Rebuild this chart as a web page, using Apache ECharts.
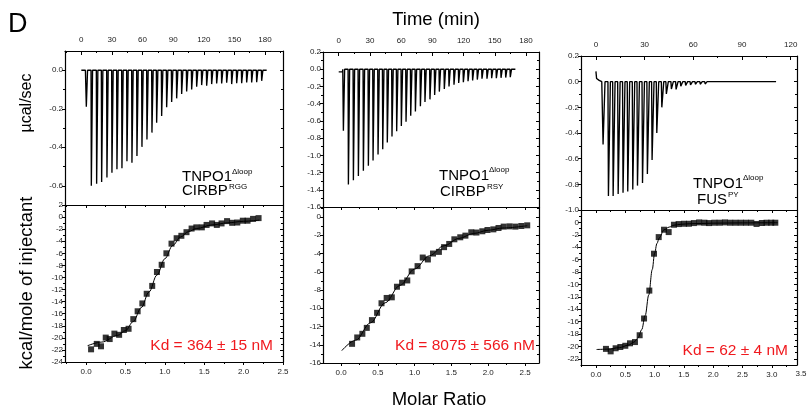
<!DOCTYPE html>
<html><head><meta charset="utf-8">
<script src="https://cdn.jsdelivr.net/npm/echarts@6/dist/echarts.min.js"></script>
<style>html,body{margin:0;padding:0;background:#fff}#c{width:808px;height:411px}</style>
</head><body><div id="c"></div>
<script>
// ---------------- DATA ----------------
// Panel 1: TNPO1(Δloop) + CIRBP(RGG)
const p1Lead = [[0, 0], [4.0, 0]];
const p1InjTimes = [4.6, 9.5, 14.7, 19.6, 24.8, 29.7, 34.6, 39.5, 44.4, 49.3, 54.2, 59.1, 64.0, 68.9, 73.5, 78.4, 83.3, 88.2, 93.1, 98.0, 102.9, 107.8, 112.7, 117.6, 122.5, 127.4, 132.3, 137.2, 142.1, 147.0, 151.9, 156.8, 161.7, 166.6, 171.5, 176.4];
const p1InjPeaks = [-0.19, -0.60, -0.59, -0.58, -0.557, -0.533, -0.514, -0.509, -0.473, -0.48, -0.446, -0.398, -0.36, -0.324, -0.273, -0.238, -0.192, -0.165, -0.146, -0.123, -0.11, -0.10, -0.086, -0.077, -0.08, -0.072, -0.069, -0.069, -0.065, -0.072, -0.067, -0.067, -0.063, -0.063, -0.062, -0.055];
const p1End = 181.6;
const p1Ratio = [0.064, 0.136, 0.19, 0.25, 0.30, 0.36, 0.42, 0.48, 0.54, 0.60, 0.655, 0.715, 0.77, 0.84, 0.90, 0.96, 1.02, 1.085, 1.15, 1.21, 1.275, 1.34, 1.40, 1.47, 1.53, 1.60, 1.66, 1.72, 1.79, 1.855, 1.92, 1.99, 2.05, 2.12, 2.19];
const p1Heat = [-21.9, -21.0, -21.4, -19.96, -20.2, -19.3, -19.5, -18.7, -18.5, -16.9, -15.6, -14.3, -12.7, -11.4, -9.1, -7.9, -6.0, -4.4, -3.5, -3.1, -2.5, -1.9, -1.7, -1.7, -1.3, -1.05, -1.3, -1.05, -0.67, -0.95, -0.9, -0.6, -0.6, -0.3, -0.17];
const p1FitRatio = [0.02, 0.2, 0.4, 0.5, 0.6, 0.7, 0.8, 0.9, 1.0, 1.1, 1.2, 1.3, 1.4, 1.6, 1.8, 2.0, 2.2];
const p1FitHeat = [-21.3, -20.7, -19.6, -18.8, -17.3, -15.0, -12.4, -9.6, -6.9, -4.7, -3.3, -2.4, -1.9, -1.3, -0.95, -0.7, -0.5];

// Panel 2: TNPO1(Δloop) + CIRBP(RSY)
const p2Lead = [[0, -0.03], [3.6, -0.03], [3.9, 0]];
const p2InjTimes = [4.2, 9.0, 13.8, 18.6, 23.4, 28.2, 32.7, 37.5, 42.0, 46.4, 50.9, 55.4, 59.9, 64.4, 68.9, 73.4, 78.2, 82.6, 87.4, 91.9, 96.4, 101.2, 105.7, 110.5, 115.0, 119.5, 124.0, 128.4, 132.9, 137.4, 142.2, 146.7, 151.2, 155.7, 160.2, 164.6];
const p2InjPeaks = [-0.715, -1.34, -1.29, -1.24, -1.18, -1.12, -1.06, -0.99, -0.93, -0.85, -0.78, -0.72, -0.66, -0.61, -0.54, -0.49, -0.43, -0.38, -0.35, -0.30, -0.26, -0.23, -0.20, -0.18, -0.16, -0.15, -0.14, -0.13, -0.12, -0.11, -0.11, -0.105, -0.105, -0.10, -0.097, -0.093];
const p2End = 169.8;
const p2Ratio = [0.15, 0.22, 0.29, 0.35, 0.42, 0.49, 0.55, 0.62, 0.69, 0.76, 0.83, 0.90, 0.96, 1.04, 1.11, 1.18, 1.25, 1.33, 1.40, 1.47, 1.54, 1.62, 1.69, 1.77, 1.84, 1.92, 1.99, 2.07, 2.14, 2.21, 2.29, 2.37, 2.45, 2.53];
const p2Heat = [-13.9, -13.2, -12.8, -12.15, -11.3, -10.5, -9.45, -8.87, -8.8, -7.64, -7.2, -6.95, -5.96, -5.38, -4.44, -4.65, -4.0, -3.82, -3.3, -2.95, -2.44, -2.22, -2.04, -1.67, -1.7, -1.56, -1.42, -1.35, -1.2, -1.05, -1.02, -1.05, -0.98, -0.91];
const p2FitRatio = [0.01, 0.2, 0.4, 0.6, 0.8, 1.0, 1.2, 1.4, 1.6, 1.8, 2.0, 2.2, 2.53];
const p2FitHeat = [-14.65, -13.5, -11.6, -9.4, -7.5, -5.7, -4.25, -3.15, -2.35, -1.8, -1.45, -1.2, -0.95];

// Panel 3: TNPO1(Δloop) + FUS(PY)
const p3Lead = [[0, 0.08], [0.4, 0.025], [1.2, 0.03], [2.0, 0.01], [3.6, 0]];
const p3InjTimes = [4.1, 7.4, 10.3, 13.4, 16.4, 19.3, 22.4, 25.3, 28.4, 31.4, 34.3, 37.2, 40.3, 43.1, 46.2, 49.1, 52.0, 55.0, 58.0, 61.0, 64.0, 67.0, 70.0, 73.0, 76.0, 79.0, 82.0, 85.0, 88.0, 91.0, 94.0, 97.0, 100.0, 103.0, 106.0, 109.0];
const p3InjPeaks = [-0.49, -0.89, -0.89, -0.875, -0.865, -0.856, -0.84, -0.81, -0.79, -0.72, -0.61, -0.40, -0.20, -0.095, -0.057, -0.06, -0.035, -0.03, -0.025, -0.02, -0.02, -0.018, -0.015, -0.015, -0.012, -0.012, -0.01, -0.01, -0.012, -0.01, -0.01, -0.01, -0.015, -0.01, -0.01, -0.01];
const p3End = 111.0;
const p3Ratio = [0.17, 0.25, 0.335, 0.415, 0.50, 0.58, 0.665, 0.745, 0.82, 0.91, 0.99, 1.07, 1.16, 1.24, 1.33, 1.41, 1.50, 1.585, 1.67, 1.76, 1.85, 1.93, 2.02, 2.11, 2.20, 2.29, 2.38, 2.47, 2.56, 2.65, 2.74, 2.83, 2.91, 2.99, 3.06];
const p3Heat = [-20.4, -20.8, -20.3, -20.1, -19.9, -19.5, -19.3, -18.2, -15.5, -11.0, -5.05, -2.37, -1.18, -1.56, -0.38, -0.27, -0.22, -0.22, -0.11, 0.0, -0.05, -0.11, -0.05, -0.05, 0.0, -0.05, -0.05, -0.05, -0.05, -0.05, -0.25, -0.1, -0.05, -0.05, -0.05];
const p3FitRatio = [0.01, 0.2, 0.4, 0.55, 0.65, 0.72, 0.78, 0.84, 0.9, 0.96, 1.0, 1.04, 1.08, 1.16, 1.25, 1.33, 1.45, 1.6, 2.0, 2.5, 3.1];
const p3FitHeat = [-20.5, -20.45, -20.2, -19.8, -19.3, -18.6, -17.3, -15.0, -11.7, -7.6, -5.0, -3.4, -2.5, -1.2, -0.75, -0.45, -0.3, -0.22, -0.12, -0.08, -0.05];

// Tick labels
const time180Ticks = [0, 30, 60, 90, 120, 150, 180];
const time120Ticks = [0, 30, 60, 90, 120];
const ratio25Ticks = [0, 0.5, 1.0, 1.5, 2.0, 2.5];
const ratio30Ticks = [0, 0.5, 1.0, 1.5, 2.0, 2.5, 3.0];
const p1RawTicks = [0.0, -0.2, -0.4, -0.6];
const p1HeatTicks = [2, 0, -2, -4, -6, -8, -10, -12, -14, -16, -18, -20, -22, -24];
const p2RawTicks = [0.2, 0.0, -0.2, -0.4, -0.6, -0.8, -1.0, -1.2, -1.4, -1.6];
const p2HeatTicks = [0, -2, -4, -6, -8, -10, -12, -14, -16];
const p3RawTicks = [0.2, 0.0, -0.2, -0.4, -0.6, -0.8, -1.0];
const p3HeatTicks = [0, -2, -4, -6, -8, -10, -12, -14, -16, -18, -20, -22];

const titleTime = 'Time (min)';
const titleRatio = 'Molar Ratio';
const yTitleRaw = 'µcal/sec';
const yTitleHeat = 'kcal/mole of injectant';
const kdTexts = ['Kd = 364 ± 15 nM', 'Kd = 8075 ± 566 nM', 'Kd = 62 ± 4 nM'];
const labelsA = [['TNPO1', 'Δloop'], ['TNPO1', 'Δloop'], ['TNPO1', 'Δloop']];
const labelsB = [['CIRBP', 'RGG'], ['CIRBP', 'RSY'], ['FUS', 'PY']];

// ---------------- LAYOUT ----------------
const FONT = '"Liberation Sans", Arial, Helvetica, sans-serif';
const SPIKE_DROP = 0.3, SPIKE_BACK = 1.5;
const panels = [
  { top: {left: 65, top: 51, width: 218, height: 154}, bot: {left: 65, top: 205, width: 218, height: 157},
    time: [-16, 197.6], raw: [-0.7, 0.1], ratio: [-0.267, 2.5], heat: [-24, 2],
    timeTicks: time180Ticks, rawTicks: p1RawTicks, ratioTicks: ratio25Ticks, heatTicks: p1HeatTicks,
    lead: p1Lead, times: p1InjTimes, peaks: p1InjPeaks, end: p1End,
    ratioD: p1Ratio, heatD: p1Heat, fitR: p1FitRatio, fitH: p1FitHeat },
  { top: {left: 323, top: 52, width: 216, height: 155}, bot: {left: 323, top: 207, width: 216, height: 156},
    time: [-15.1, 192.5], raw: [-1.6, 0.2], ratio: [-0.245, 2.69], heat: [-16, 1.1],
    timeTicks: time180Ticks, rawTicks: p2RawTicks, ratioTicks: ratio25Ticks, heatTicks: p2HeatTicks,
    lead: p2Lead, times: p2InjTimes, peaks: p2InjPeaks, end: p2End,
    ratioD: p2Ratio, heatD: p2Heat, fitR: p2FitRatio, fitH: p2FitHeat },
  { top: {left: 581, top: 56, width: 216, height: 154}, bot: {left: 581, top: 210, width: 216, height: 155},
    time: [-9.2, 123.9], raw: [-1.0, 0.2], ratio: [-0.256, 3.43], heat: [-23, 2],
    timeTicks: time120Ticks, rawTicks: p3RawTicks, ratioTicks: ratio30Ticks, heatTicks: p3HeatTicks,
    lead: p3Lead, times: p3InjTimes, peaks: p3InjPeaks, end: p3End,
    ratioD: p3Ratio, heatD: p3Heat, fitR: p3FitRatio, fitH: p3FitHeat }
];

function minors(arr, lo, hi) {
  const s = arr.slice().sort((a, b) => a - b);
  const d = s[1] - s[0];
  const out = [s[0] - d / 2];
  for (let i = 0; i < s.length - 1; i++) out.push((s[i] + s[i + 1]) / 2);
  out.push(s[s.length - 1] + d / 2);
  return out.filter(v => v > lo + 1e-9 && v < hi - 1e-9);
}

const grids = [], xAxes = [], yAxes = [], series = [];
function axis(list, gridIndex, pos, range, ticks, o) {
  list.push({
    type: 'value', gridIndex, position: pos, min: range[0], max: range[1], offset: 0,
    axisLine: {show: !!o.line, onZero: false, lineStyle: {color: '#000', width: 1.2}},
    axisTick: {show: ticks.length > 0, inside: !!o.inside, length: o.len || 4, customValues: ticks, lineStyle: {color: '#000', width: 1}},
    axisLabel: {show: !!o.fmt, customValues: ticks, formatter: o.fmt, fontSize: 8, color: '#222', fontFamily: FONT, margin: o.margin || 3, hideOverlap: false},
    splitLine: {show: false}, minorTick: {show: false}, minorSplitLine: {show: false}
  });
  return list.length - 1;
}
const f1 = v => (Math.abs(v) < 1e-9 ? 0 : v).toFixed(1);
const f0 = v => String(Math.round(v));

panels.forEach((p, i) => {
  // top grid: raw thermogram
  const gt = grids.length; grids.push(Object.assign({containLabel: false}, p.top));
  const xt = axis(xAxes, gt, 'top', p.time, p.timeTicks, {line: true, inside: true, len: 4, fmt: f0, margin: 7});
  axis(xAxes, gt, 'top', p.time, minors(p.timeTicks, p.time[0], p.time[1]), {inside: true, len: 2});
  axis(xAxes, gt, 'bottom', p.time, [], {line: true});
  const yt = axis(yAxes, gt, 'left', p.raw, p.rawTicks, {line: true, len: 3, fmt: f1, margin: 2});
  axis(yAxes, gt, 'left', p.raw, minors(p.rawTicks, p.raw[0], p.raw[1]), {len: 2});
  axis(yAxes, gt, 'right', p.raw, p.rawTicks, {line: true, inside: true, len: 3});
  axis(yAxes, gt, 'right', p.raw, minors(p.rawTicks, p.raw[0], p.raw[1]), {inside: true, len: 2});

  const pts = p.lead.slice();
  p.times.forEach((t, k) => { pts.push([t, 0], [t + SPIKE_DROP, p.peaks[k]], [t + SPIKE_BACK, 0]); });
  pts.push([p.end, 0]);
  series.push({type: 'line', xAxisIndex: xt, yAxisIndex: yt, data: pts, showSymbol: false, symbol: 'none',
    lineStyle: {color: '#000', width: 1.35}, animation: false, silent: true});

  // bottom grid: isotherm
  const gb = grids.length; grids.push(Object.assign({containLabel: false}, p.bot));
  const xb = axis(xAxes, gb, 'bottom', p.ratio, p.ratioTicks, {line: true, len: 3, fmt: f1, margin: 6});
  axis(xAxes, gb, 'bottom', p.ratio, minors(p.ratioTicks, p.ratio[0], p.ratio[1]), {len: 2});
  axis(xAxes, gb, 'top', p.ratio, p.ratioTicks, {line: true, inside: true, len: 3});
  axis(xAxes, gb, 'top', p.ratio, minors(p.ratioTicks, p.ratio[0], p.ratio[1]), {inside: true, len: 2});
  const yb = axis(yAxes, gb, 'left', p.heat, p.heatTicks, {line: true, len: 3, fmt: f0, margin: 2});
  axis(yAxes, gb, 'left', p.heat, minors(p.heatTicks, p.heat[0], p.heat[1]), {len: 2});
  axis(yAxes, gb, 'right', p.heat, p.heatTicks, {line: true, inside: true, len: 3});
  axis(yAxes, gb, 'right', p.heat, minors(p.heatTicks, p.heat[0], p.heat[1]), {inside: true, len: 2});

  series.push({type: 'line', xAxisIndex: xb, yAxisIndex: yb, data: p.fitR.map((r, k) => [r, p.fitH[k]]),
    showSymbol: false, symbol: 'none', smooth: 0.35, smoothMonotone: 'x', lineStyle: {color: '#000', width: 1}, animation: false, silent: true});
  series.push({type: 'scatter', xAxisIndex: xb, yAxisIndex: yb, data: p.ratioD.map((r, k) => [r, p.heatD[k]]),
    symbol: 'rect', symbolSize: 6, itemStyle: {color: '#000'}, animation: false, silent: true, z: 3});
});

// ---------------- TEXT ----------------
function txt(x, y, text, size, o) {
  o = o || {};
  return {type: 'text', x, y, rotation: o.rot || 0, silent: true, z: 100,
    style: {text, fontSize: size, fontFamily: FONT, fill: o.color || '#000', align: o.align || 'center', verticalAlign: o.va || 'middle'}};
}
const annoPos = [
  {ax: 182, ay: 177, sx: 232, sy: 172, bx: 182, by: 191, tx: 229, ty: 187},
  {ax: 439, ay: 176, sx: 489, sy: 170, bx: 440, by: 192, tx: 487, ty: 187},
  {ax: 693, ay: 184, sx: 743, sy: 178, bx: 697, by: 200, tx: 728, ty: 195}
];
const kdPos = [[273, 346], [535, 346], [788, 351]];
const graphics = [
  txt(8, 25, 'D', 27, {align: 'left'}),
  txt(436, 20, titleTime, 18.5),
  txt(439, 400, titleRatio, 18.5),
  txt(27, 103, yTitleRaw, 16, {rot: Math.PI / 2}),
  txt(27, 283, yTitleHeat, 18.5, {rot: Math.PI / 2}),
  txt(801, 374, '3.5', 8, {color: '#222'})
];
annoPos.forEach((a, i) => {
  graphics.push(txt(a.ax, a.ay, labelsA[i][0], 15, {align: 'left'}));
  graphics.push(txt(a.sx, a.sy, labelsA[i][1], 8, {align: 'left'}));
  graphics.push(txt(a.bx, a.by, labelsB[i][0], 15, {align: 'left'}));
  graphics.push(txt(a.tx, a.ty, labelsB[i][1], 8, {align: 'left'}));
  graphics.push(txt(kdPos[i][0], kdPos[i][1], kdTexts[i], 15.5, {align: 'right', color: '#f0191e'}));
});

const chart = echarts.init(document.getElementById('c'), null, {renderer: 'canvas'});
chart.setOption({
  animation: false,
  backgroundColor: '#fff',
  grid: grids, xAxis: xAxes, yAxis: yAxes, series,
  graphic: {elements: graphics}
});
</script></body></html>
